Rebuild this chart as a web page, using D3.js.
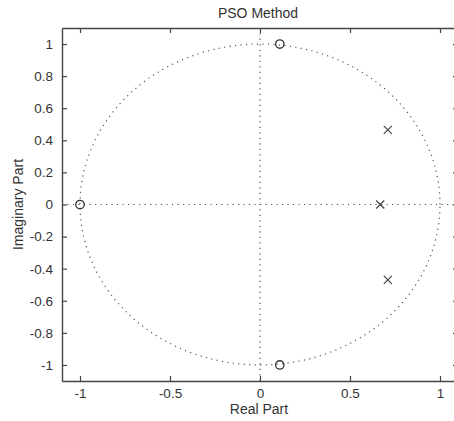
<!DOCTYPE html>
<html>
<head>
<meta charset="utf-8">
<script src="https://cdn.jsdelivr.net/npm/d3@7"></script>
<style>
  body { margin: 0; background: #fff; }
  text { font-family: "Liberation Sans", Arial, sans-serif; fill: #333; }
</style>
</head>
<body>
<svg id="chart" width="454" height="421"></svg>
<script>
// zeros and poles (real, imag)
var zerosRe = [0.11, 0.11, -1];
var zerosIm = [1, -1, 0];
var polesRe = [0.71, 0.668, 0.71];
var polesIm = [0.465, 0, -0.47];
var xTicks = [-1, -0.5, 0, 0.5, 1];
var yTicks = [-1, -0.8, -0.6, -0.4, -0.2, 0, 0.2, 0.4, 0.6, 0.8, 1];

var svg = d3.select("#chart"),
    margin = {top: 28, right: -4, bottom: 40, left: 62},
    width = 454 - margin.left - margin.right,
    height = 421 - margin.top - margin.bottom,
    g = svg.append("g").attr("transform", "translate(" + margin.left + "," + margin.top + ")");

var x = d3.scaleLinear().domain([-1.1, 1.1]).range([0, width]);
var y = d3.scaleLinear().domain([-1.1, 1.1]).range([height, 0]);

var dotted = "1.2,4.3";
var dotColor = "#555";

// unit circle
var theta = d3.range(0, 2 * Math.PI + 0.01, 0.01);
var circleLine = d3.line()
    .x(function(t) { return x(Math.cos(t)); })
    .y(function(t) { return y(Math.sin(t)); });
g.append("path")
    .datum(theta)
    .attr("fill", "none")
    .attr("stroke", dotColor)
    .attr("stroke-width", 1.2)
    .attr("stroke-dasharray", dotted)
    .attr("d", circleLine);

// crosshair lines
g.append("line")
    .attr("x1", x(-1.1)).attr("x2", x(1.1))
    .attr("y1", y(0)).attr("y2", y(0))
    .attr("stroke", dotColor).attr("stroke-width", 1.2)
    .attr("stroke-dasharray", dotted);
g.append("line")
    .attr("x1", x(0)).attr("x2", x(0))
    .attr("y1", y(-1.1)).attr("y2", y(1.1))
    .attr("stroke", dotColor).attr("stroke-width", 1.2)
    .attr("stroke-dasharray", dotted);

// axes, ticks inside on all four sides
var fmt = function(d) { return String(d); };
var axBottom = g.append("g")
    .attr("transform", "translate(0," + height + ")")
    .call(d3.axisBottom(x).tickValues(xTicks).tickSizeInner(-5).tickSizeOuter(0).tickPadding(7).tickFormat(fmt));
var axLeft = g.append("g")
    .call(d3.axisLeft(y).tickValues(yTicks).tickSizeInner(-5).tickSizeOuter(0).tickPadding(9).tickFormat(fmt));
var axTop = g.append("g")
    .call(d3.axisTop(x).tickValues(xTicks).tickSizeInner(-5).tickSizeOuter(0).tickFormat(""));
var axRight = g.append("g")
    .attr("transform", "translate(" + width + ",0)")
    .call(d3.axisRight(y).tickValues(yTicks).tickSizeInner(-5).tickSizeOuter(0).tickFormat(""));

[axBottom, axLeft, axTop, axRight].forEach(function(a) {
    a.selectAll("path").attr("stroke", "#444").attr("stroke-width", 1.4);
    a.selectAll("line").attr("stroke", "#444").attr("stroke-width", 1.2);
    a.selectAll("text").attr("font-size", 13.5).attr("font-family", "Liberation Sans, Arial, sans-serif").style("fill", "#333");
});

// zeros
g.selectAll(".zero")
    .data(zerosRe)
    .enter().append("circle")
    .attr("class", "zero")
    .attr("cx", function(d) { return x(d); })
    .attr("cy", function(d, i) { return y(zerosIm[i]); })
    .attr("r", 4.2)
    .attr("fill", "none")
    .attr("stroke", "#333")
    .attr("stroke-width", 1.3);

// poles
var s = 4;
polesRe.forEach(function(d, i) {
    var px = x(d), py = y(polesIm[i]);
    g.append("path")
        .attr("d", "M" + (px - s) + "," + (py - s) + "L" + (px + s) + "," + (py + s) +
                   "M" + (px - s) + "," + (py + s) + "L" + (px + s) + "," + (py - s))
        .attr("stroke", "#444")
        .attr("stroke-width", 1.2)
        .attr("fill", "none");
});

// title and labels
svg.append("text")
    .attr("x", margin.left + width / 2 - 2)
    .attr("y", 18)
    .attr("text-anchor", "middle")
    .attr("font-size", 14)
    .text("PSO Method");
svg.append("text")
    .attr("x", margin.left + width / 2 - 1)
    .attr("y", 414)
    .attr("text-anchor", "middle")
    .attr("font-size", 14)
    .text("Real Part");
svg.append("text")
    .attr("transform", "translate(23," + (margin.top + height / 2) + ") rotate(-90)")
    .attr("text-anchor", "middle")
    .attr("font-size", 14)
    .text("Imaginary Part");
</script>
</body>
</html>
